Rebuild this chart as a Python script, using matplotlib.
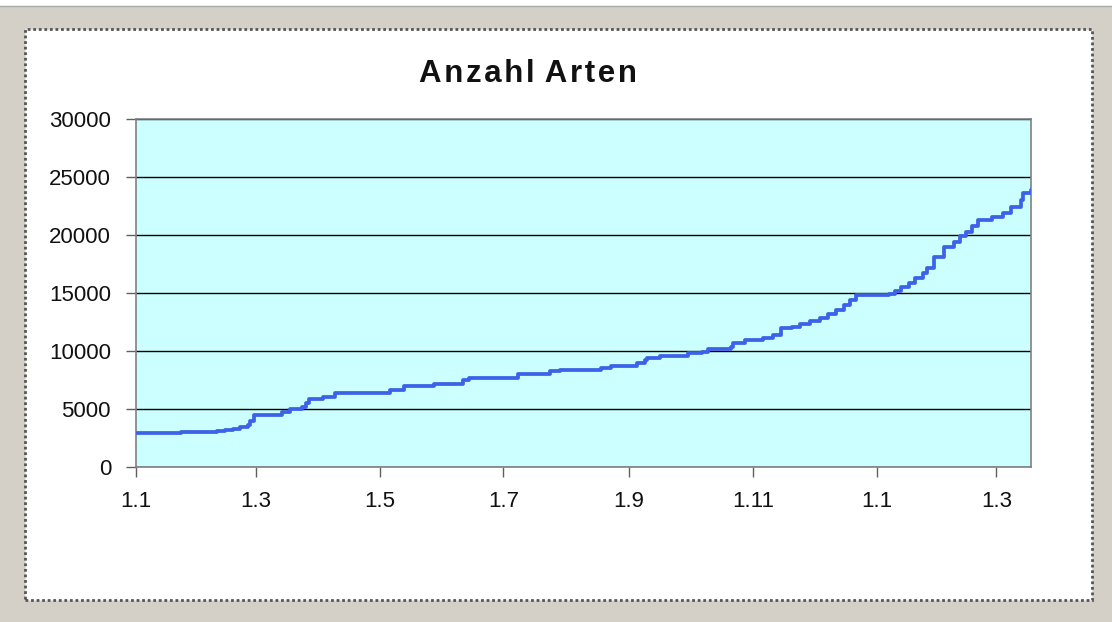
import matplotlib.pyplot as plt
import matplotlib.patches as patches

plt.rcParams['font.family'] = ['Liberation Sans', 'DejaVu Sans']

# days since 1.1 and counted species
days = [0, 22, 40, 44, 48, 51, 55, 56, 58, 72, 76, 82, 84, 85, 92, 98,
        125, 132, 147, 161, 164, 188, 204, 209, 229, 234, 247, 251, 252,
        258, 272, 279, 282, 293, 294, 300, 309, 314, 318, 323, 327, 332,
        337, 341, 345, 349, 352, 355, 371, 374, 377, 381, 384, 388, 390,
        393, 398, 403, 406, 409, 412, 415, 422, 427, 431, 436, 437, 441]
counts = [2950, 3050, 3100, 3200, 3280, 3450, 3620, 4000, 4480, 4740, 5000,
          5170, 5500, 5860, 6030, 6380, 6640, 6980, 7150, 7500, 7670, 8020,
          8275, 8360, 8530, 8700, 8960, 9200, 9400, 9570, 9830, 9910, 10170,
          10340, 10690, 10950, 11120, 11380, 11980, 12100, 12330, 12600,
          12840, 13200, 13530, 14000, 14400, 14800, 14900, 15200, 15500,
          15900, 16300, 16700, 17150, 18100, 18960, 19400, 19900, 20260,
          20800, 21290, 21550, 21900, 22410, 23000, 23620, 23880]

tick_days = [0, 59, 120, 181, 243, 304, 365, 424]
tick_labels = ['1.1', '1.3', '1.5', '1.7', '1.9', '1.11', '1.1', '1.3']
y_ticks = [0, 5000, 10000, 15000, 20000, 25000, 30000]

fig = plt.figure(figsize=(11.12, 6.22), dpi=100)
fig.patch.set_facecolor('#d4d0c8')

# white chart area with dotted frame
frame = patches.Rectangle((25 / 1112, 1 - 600 / 622), 1067 / 1112, 571 / 622,
                          transform=fig.transFigure, facecolor='white',
                          edgecolor='#555555', linewidth=2,
                          linestyle=(0, (1, 1)), zorder=-2)
fig.patches.append(frame)

# thin white strip on top
strip = patches.Rectangle((0, 1 - 6 / 622), 1, 6 / 622, transform=fig.transFigure,
                          facecolor='white', edgecolor='none', zorder=-2)
fig.patches.append(strip)
fig.add_artist(plt.Line2D([0, 1], [1 - 6 / 622, 1 - 6 / 622], transform=fig.transFigure,
                          color='#a8a8a8', linewidth=1, zorder=-1))

ax = fig.add_axes([136 / 1112, 1 - 467 / 622, 895 / 1112, 348 / 622])
ax.set_zorder(1)
ax.set_facecolor('#ccffff')
ax.plot(days, counts, drawstyle='steps-post', color='#3b62e8', linewidth=2.7,
        solid_joinstyle='round', solid_capstyle='round', zorder=3)

ax.set_xlim(0, 441)
ax.set_ylim(0, 30000)
ax.set_xticks(tick_days)
ax.set_xticklabels(tick_labels)
ax.set_yticks(y_ticks)
ax.yaxis.grid(True, color='black', linewidth=1)
ax.set_axisbelow(True)

for s in ax.spines.values():
    s.set_color('#808080')
    s.set_linewidth(1.2)

ax.tick_params(axis='both', direction='out', length=7, width=1, color='#606060',
               labelsize=16, labelcolor='#111111')
ax.tick_params(axis='y', pad=11)
ax.tick_params(axis='x', pad=10)

fig.text(528 / 1112, 1 - 74 / 622, 'A\u200an\u200az\u200aa\u200ah\u200al\u200a A\u200ar\u200at\u200ae\u200an',
         ha='center', va='center', fontsize=22.5, fontweight='bold', color='#111111')

fig.savefig('out.png', dpi=100, facecolor=fig.get_facecolor())
